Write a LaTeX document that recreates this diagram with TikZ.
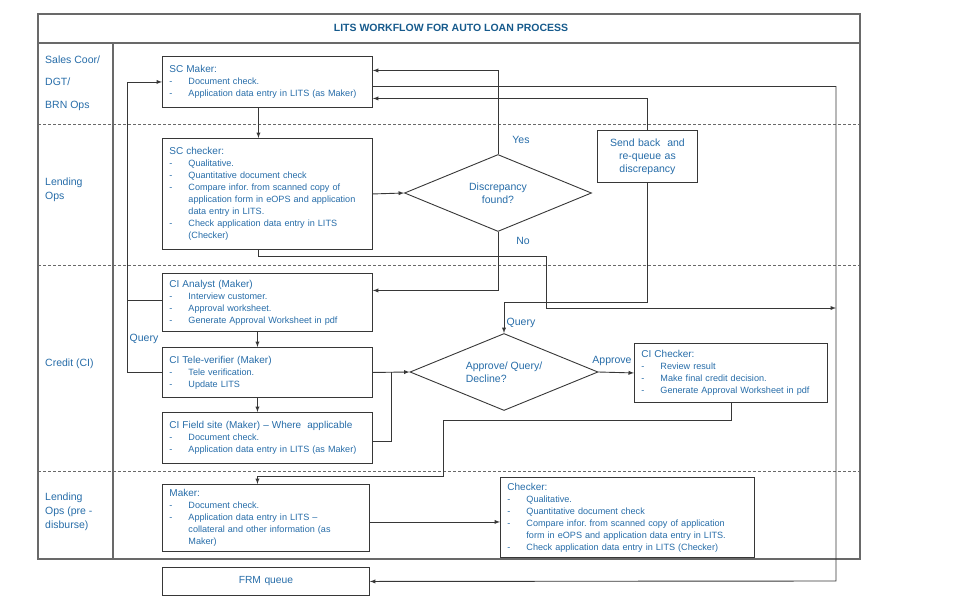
\documentclass[tikz,border=0pt]{standalone}
\usepackage{fontspec}
\setmainfont{Liberation Sans}
\usetikzlibrary{shapes,arrows,calc,positioning}
\frenchspacing

\definecolor{txtblue}{RGB}{38,108,168}
\definecolor{hdblue}{RGB}{22,90,140}
\definecolor{lncol}{RGB}{55,55,55}
\definecolor{frcol}{RGB}{105,105,105}

\newcommand{\itm}[1]{\makebox[19pt][l]{-}#1}
\newcommand{\cnt}{\hspace*{19pt}}
\newcommand{\hd}[1]{{\fontsize{10}{12}\selectfont #1}}

\tikzset{
 box/.style={draw=lncol,line width=0.9pt,anchor=north west,align=left,inner xsep=7pt,inner ysep=2pt,text=txtblue,font=\fontsize{9.1}{12}\selectfont},
 dec/.style={draw=lncol,line width=0.9pt,diamond,aspect=2.4,inner sep=1pt,text=txtblue,font=\fontsize{10.5}{13}\selectfont},
 lbl/.style={text=txtblue,font=\fontsize{10.5}{13}\selectfont,inner sep=1pt},
 lane/.style={text=txtblue,font=\fontsize{10.5}{14}\selectfont,inner sep=1pt,anchor=west,align=left},
 arr/.style={draw=lncol,line width=0.9pt,-latex},
 lnk/.style={draw=lncol,line width=0.9pt},
 frame/.style={draw=frcol,line width=1.1pt}
}

\begin{document}
\begin{tikzpicture}[x=1pt,y=-1pt]
\useasboundingbox (0,0) rectangle (979,605);

\draw[frame] (38,14) rectangle (860,559);
\draw[frame] (38,43) -- (860,43);
\draw[frame] (113,43) -- (113,559);

\foreach \yy in {124,265,471}{
\draw[frcol,line width=0.9pt,dash pattern=on 3pt off 2pt] (38,\yy) -- (860,\yy);
}

\node[font=\bfseries\fontsize{10.5}{13}\selectfont,text=hdblue] (ttl) at (451,28) {LITS WORKFLOW FOR AUTO LOAN PROCESS};

\node[lane,anchor=north west] (ln1) at (44,54.5) {Sales Coor/\\[8.5pt]DGT/\\[8.5pt]BRN Ops};
\node[lane] (ln2) at (44,190) {Lending\\Ops};
\node[lane] (ln3) at (44,364) {Credit (CI)};
\node[lane] (ln4) at (44,512) {Lending\\Ops (pre -\\disburse)};

\node[box,text width=196pt,minimum height=51pt] (scm) at (162,56) {\hd{SC Maker:}\\\itm{Document check.}\\\itm{Application data entry in LITS (as Maker)}};
\node[box,text width=196pt,minimum height=111pt] (scc) at (162,138) {\hd{SC checker:}\\\itm{Qualitative.}\\\itm{Quantitative document check}\\\itm{Compare infor. from scanned copy of}\\\cnt application form in eOPS and application\\\cnt data entry in LITS.\\\itm{Check application data entry in LITS}\\\cnt (Checker)};
\node[dec,minimum width=187pt,minimum height=77pt,align=center] (disc) at (498,193) {Discrepancy\\found?};
\node[box,text width=86pt,minimum height=52pt,align=center,font=\fontsize{10.5}{13}\selectfont] (sb) at (597,130) {Send back\ \ and\\re-queue as\\discrepancy};

\node[box,text width=196pt,minimum height=58pt] (cia) at (162,273) {\hd{CI Analyst (Maker)}\\\itm{Interview customer.}\\\itm{Approval worksheet.}\\\itm{Generate Approval Worksheet in pdf}};
\node[box,text width=196pt,minimum height=50pt] (cit) at (162,347) {\hd{CI Tele-verifier (Maker)}\\\itm{Tele verification.}\\\itm{Update LITS}};
\node[box,text width=196pt,minimum height=51pt] (cif) at (162,412) {\hd{CI Field site (Maker) -- Where\ \ applicable}\\\itm{Document check.}\\\itm{Application data entry in LITS (as Maker)}};
\node[dec,minimum width=188pt,minimum height=77pt,align=left] (apq) at (504,372) {Approve/ Query/\\Decline?};
\node[box,text width=179pt,minimum height=59pt] (cic) at (634,343) {\hd{CI Checker:}\\\itm{Review result}\\\itm{Make final credit decision.}\\\itm{Generate Approval Worksheet in pdf}};

\node[box,text width=193pt,minimum height=67pt] (mk) at (162,484) {\hd{Maker:}\\\itm{Document check.}\\\itm{Application data entry in LITS --}\\\cnt collateral and other information (as\\\cnt Maker)};
\node[box,text width=240pt,minimum height=80pt] (ck) at (500,477) {\hd{Checker:}\\\itm{Qualitative.}\\\itm{Quantitative document check}\\\itm{Compare infor. from scanned copy of application}\\\cnt form in eOPS and application data entry in LITS.\\\itm{Check application data entry in LITS (Checker)}};
\node[box,text width=193pt,minimum height=28pt,align=center,font=\fontsize{10.3}{12}\selectfont] (frm) at (162,567) {FRM queue};

\coordinate (rj) at (836,308);
\coordinate (rb) at (836,581);

\draw[arr] ([xshift=-9pt]scm.south) -- ([xshift=-9pt]scc.north);
\draw[arr] (scc.east) -- (disc.west);
\draw[arr] (disc.north) |- ([yshift=11.5pt]scm.east);
\draw[arr] (disc.south) |- ([yshift=12pt]cia.east);
\draw[arr] ([xshift=-9pt]scc.south) -- ++(0,7) -- ++(288,0) |- (rj);
\draw[arr] ([yshift=-4.5pt]scm.east) -| (rb) -- (frm.east);
\draw[arr] (sb.north) |- ([yshift=-16.5pt]scm.east);
\draw[arr] (sb.south) -- ++(0,120) -| (apq.north);

\draw[arr] ([xshift=-10pt]cia.south) -- ([xshift=-10pt]cit.north);
\draw[arr] ([xshift=-10pt]cit.south) -- ([xshift=-10pt]cif.north);
\draw[arr] (cit.east) -- (apq.west);
\draw[lnk] ([yshift=-3.5pt]cif.east) -| ($(cit.east)!0.5!(apq.west)$);
\draw[arr] (apq.east) -- (cic.west);
\draw[arr] (cic.south) -- ++(0,18) -| (443,476) -| ([xshift=-8.5pt]mk.north);
\draw[arr] ([yshift=-4pt]mk.east) -- ([yshift=-4pt]mk.east -| ck.west);
\draw[arr] (cit.west) -- ++(-35,0) |- (scm.west);
\draw[lnk] ([yshift=2pt]cia.west) -- ++(-35,0);

\node[lbl] (yes) at (521,140) {Yes};
\node[lbl] (no) at (523,241) {No};
\node[lbl] (qry) at (521,323) {Query};
\node[lbl] (apv) at (612,361) {Approve};
\node[lbl] (qryl) at (144,339) {Query};

\end{tikzpicture}
\end{document}
